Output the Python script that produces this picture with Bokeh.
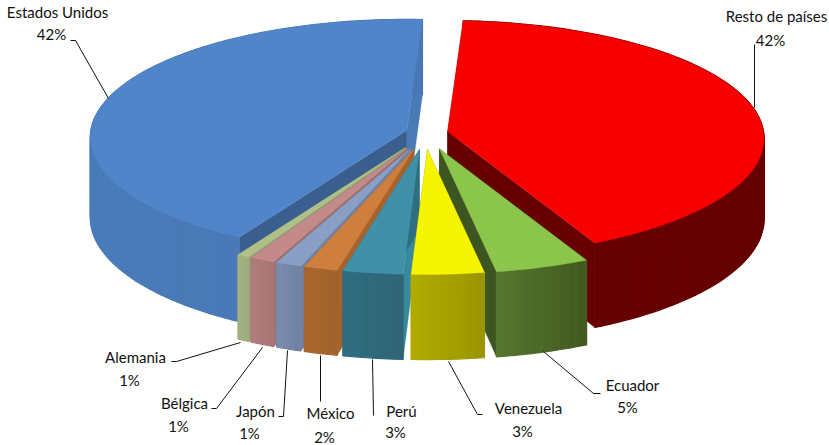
import math
from bokeh.plotting import figure
from bokeh.models import Range1d
from bokeh.embed import file_html
from bokeh.resources import INLINE
from bokeh.core.properties import value

# ---- data (clockwise, starting at the top of the pie)
countries = ["Resto de países", "Ecuador", "Venezuela", "Perú", "México", "Japón", "Bélgica", "Alemania", "Estados Unidos"]
shares = [41.9, 4.55, 3.49, 2.89, 1.64, 1.25, 1.22, 0.61, 42.45]

# ---- styles
top_colors = ["#f70000", "#8bc54b", "#f5f500", "#4090a8", "#ce7f3d", "#8a9fc5", "#c48a8a", "#aebf88", "#5086c9"]
rim_left = ["#660000", "#55772f", "#b0ab00", "#2f6e80", "#a8672e", "#7c8cae", "#b07c7c", "#a3b283", "#4a7bb9"]
rim_right = ["#660000", "#41591f", "#9a9500", "#2f6475", "#a0622a", "#6e7f9f", "#a87474", "#9cab7c", "#4877b3"]
wall_start = ["#660000", "#3d5520", "#9a9500", "#378a9c", "#a8632c", "#6f82a8", "#97706f", "#8ea070", "#3a5f8f"]
wall_end = ["#660000", "#3d5520", "#9a9500", "#2f6e80", "#a8632c", "#6f82a8", "#97706f", "#8ea070", "#4a7ab5"]
explode_x = [21, 40, 40, 40, 40, 40, 40, 40, 21]
nudge_x = [0, 0, -2, -2, -2, -2, -2, -2, 0]
draw_order = [8, 7, 6, 5, 4, 3, 0, 1, 2]

# ---- projection of the tilted disc
START, RX, RY, PERSP, DEPTH = 3.0, 316.0, 117.5, 0.06, 80.0
CX, CY, EXPLODE_Y = 426.5, 134.0, 15.0

bounds = [START]
for s in shares:
    bounds.append(bounds[-1] + s / sum(shares) * 360.0)

def project(ax, ay, deg):
    t = math.radians(deg)
    w = 1 + PERSP * math.cos(t)
    return ax + RX * math.sin(t) / w, ay - RY * math.cos(t) / w, DEPTH / w

def mix(c1, c2, f):
    a = [int(c1[i:i + 2], 16) for i in (1, 3, 5)]
    b = [int(c2[i:i + 2], 16) for i in (1, 3, 5)]
    return "#%02x%02x%02x" % tuple(round(a[i] + (b[i] - a[i]) * f) for i in range(3))

p = figure(width=829, height=445, output_backend="svg", toolbar_location=None,
           x_range=Range1d(0, 829), y_range=Range1d(445, 0), min_border=0,
           background_fill_color="white", border_fill_color="white")
p.xaxis.visible = False
p.yaxis.visible = False
p.grid.visible = False
p.outline_line_color = None

def poly(xs, ys, color, lw=0.6):
    p.patch(xs, ys, fill_color=color, line_color=color, line_width=lw)

for i in draw_order:
    a0, a1 = bounds[i], bounds[i + 1]
    mid = math.radians((a0 + a1) / 2)
    ax = CX + nudge_x[i] + explode_x[i] * math.sin(mid)
    ay = CY - EXPLODE_Y * math.cos(mid)
    n = max(4, int((a1 - a0) / 1.5))
    angs = [a0 + (a1 - a0) * k / n for k in range(n + 1)]
    pts = [project(ax, ay, a) for a in angs]

    # radial walls
    for deg, col in ((a0, wall_start[i]), (a1, wall_end[i])):
        x, y, d = project(ax, ay, deg)
        poly([ax, x, x, ax], [ay, y, y + d, ay + DEPTH], col, 0.3)

    # outer rim, shaded left to right
    xmin, xmax = min(q[0] for q in pts), max(q[0] for q in pts)
    for k in range(n):
        (x0, y0, d0), (x1, y1, d1) = pts[k], pts[k + 1]
        f = ((x0 + x1) / 2 - xmin) / max(xmax - xmin, 1)
        poly([x0, x1, x1, x0], [y0, y1, y1 + d1, y0 + d0], mix(rim_left[i], rim_right[i], f), 1.2)

    # top face
    poly([ax] + [q[0] for q in pts], [ay] + [q[1] for q in pts], top_colors[i], 0.3)

# ---- labels: (name x, name y, percent x, percent y, leader polyline)
label_layout = {
    "Estados Unidos": (57, 11, 51, 33, [(70, 40), (75, 40), (108, 98)]),
    "Resto de países": (776, 15, 770, 39, [(754, 44), (754, 107)]),
    "Alemania": (135, 356, 129, 379, [(171, 361), (176, 361), (240, 342)]),
    "Bélgica": (184, 402, 178, 425, [(211, 408), (216, 408), (262, 347)]),
    "Japón": (255, 410, 249, 432, [(278, 416), (283, 416), (287, 350)]),
    "México": (330, 412, 324, 436, [(320, 401), (320, 355)]),
    "Perú": (401, 410, 395, 431, [(373, 415), (372, 359)]),
    "Venezuela": (528, 407, 522, 430, [(482, 414), (477, 414), (448, 361)]),
    "Ecuador": (632, 384, 627, 406, [(600, 393), (593, 393), (543, 351)]),
}
for name, share in zip(countries, shares):
    nx, ny, px, py, leader = label_layout[name]
    p.line([q[0] for q in leader], [q[1] for q in leader], line_color="#111111", line_width=1)
    for tx, ty, txt in ((nx, ny, name), (px, py, f"{round(share)}%")):
        p.text([tx], [ty], text=[txt], text_font=value("Lato"), text_font_size="15px",
               text_align="center", text_baseline="middle", text_color="#111111")

open("out.html", "w").write(file_html(p, INLINE))
